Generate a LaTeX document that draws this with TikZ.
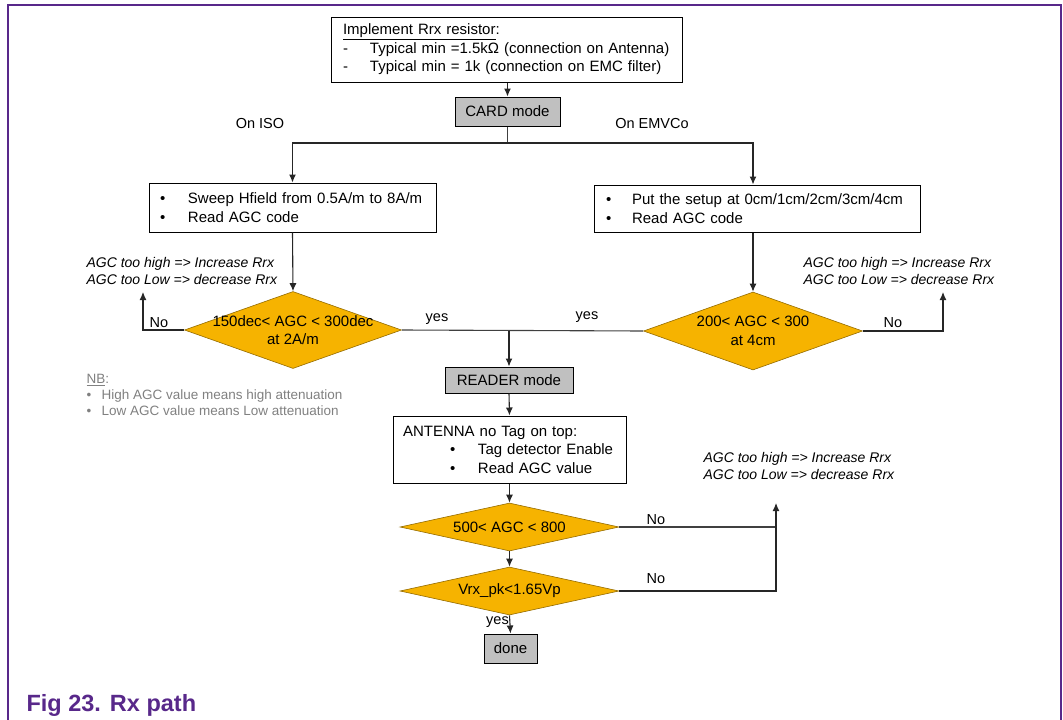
\documentclass[tikz,border=0pt]{standalone}
\usepackage{fontspec}
\setmainfont{Liberation Sans}
\usetikzlibrary{arrows.meta,shapes.geometric}
\definecolor{agcorange}{RGB}{246,179,0}
\definecolor{modegray}{RGB}{192,192,192}
\definecolor{nxppurple}{RGB}{88,40,138}
\definecolor{nbgray}{RGB}{128,128,128}
\tikzset{
  every node/.style={font=\fontsize{15}{18.5}\selectfont},
  procbox/.style={draw, line width=1pt, fill=white, align=left, inner xsep=12},
  modebox/.style={draw, line width=1pt, fill=modegray, minimum height=29, inner sep=0},
  decision/.style={diamond, draw=agcorange!60!black, line width=0.6pt, fill=agcorange, inner sep=0},
  flow/.style={line width=1.1pt, black!85, -{Latex[length=8,width=7]}},
  wire/.style={line width=1.1pt, black!75},
  hint/.style={font=\fontsize{14}{17}\itshape, align=left, anchor=west},
  tag/.style={font=\fontsize{14.5}{17}\selectfont},
}

\begin{document}
\begin{tikzpicture}[x=1pt,y=-1pt]
  \useasboundingbox (0,0) rectangle (1063,720);
  %%%%% frame and caption %%%%%
  \draw[nxppurple, line width=1.8pt] (8,720) |- (1061,5) -- (1061,720);
  \node[anchor=west, text=nxppurple, font=\fontsize{23.5}{27}\bfseries\selectfont] (caption) at (23,705) {Fig 23.\hspace{9pt}Rx path};

  %%%%% card mode part %%%%%
  \node[procbox, text width=327, minimum height=65] (rrx) at (506.5,49.5)
    {\underline{Implement Rrx resistor}:\\
     \makebox[27pt][l]{-}Typical min =1.5kΩ (connection on Antenna)\\
     \makebox[27pt][l]{-}Typical min = 1k (connection on EMC filter)};
  \node[modebox, minimum width=105] (card) at (507.5,111.5) {CARD mode};
  \draw[flow] (rrx.south -| card.north) -- (card.north);
  \coordinate (split) at (507.5,143);

  \node[tag] (oniso) at (260,124) {On ISO};
  \node[tag] (onemv) at (652,124) {On EMVCo};

  \node[procbox, inner xsep=11, text width=265, minimum height=49] (iso) at (292.5,207.5)
    {\makebox[28pt][l]{\textbullet}Sweep Hfield from 0.5A/m to 8A/m\\
     \makebox[28pt][l]{\textbullet}Read AGC code};
  \node[procbox, text width=302, minimum height=47] (emv) at (757,208.5)
    {\makebox[26pt][l]{\textbullet}Put the setup at 0cm/1cm/2cm/3cm/4cm\\
     \makebox[26pt][l]{\textbullet}Read AGC code};

  \draw[wire] (card.south) -- (split);
  \draw[flow] (split) -| (iso.north);
  \draw[flow] (split) -| (emv.north -| 753,0);

  \node[decision, minimum width=217, minimum height=77] (dec1) at (293,330) {};
  \node[align=center] (dec1txt) at (dec1) {150dec< AGC < 300dec\\at 2A/m};
  \node[decision, minimum width=219, minimum height=78] (dec2) at (753,331) {};
  \node[align=center] (dec2txt) at (dec2) {200< AGC < 300\\at 4cm};

  \draw[flow] (iso.south) -- (dec1.north);
  \draw[flow] (emv.south -| dec2.north) -- (dec2.north);

  % retry loops
  \coordinate (noL) at (143,292);
  \coordinate (noR) at (943,292);
  \draw[flow] (dec1.west) -| (noL);
  \draw[flow] (dec2.east) -| (noR);
  \node[tag] (noLtxt) at (159,323) {No};
  \node[tag] (noRtxt) at (893,323) {No};
  \node[hint] (hintL) at (83,270.5) {AGC too high => Increase Rrx\\AGC too Low => decrease Rrx};
  \node[hint] (hintR) at (800,270.5) {AGC too high => Increase Rrx\\AGC too Low => decrease Rrx};

  \node[anchor=north west, align=left, text=nbgray, font=\fontsize{13.5}{16}\selectfont] (nb) at (83,371)
    {\underline{NB}:\\
     \makebox[15pt][l]{\textbullet}High AGC value means high attenuation\\
     \makebox[15pt][l]{\textbullet}Low AGC value means Low attenuation};

  %%%%% reader mode part %%%%%
  \coordinate (join) at (509,330.5);
  \draw[wire] (dec1.east) -- (dec2.west);
  \node[tag] (yesL) at (437,319) {yes};
  \node[tag] (yesR) at (587,317) {yes};
  \node[modebox, minimum width=128, minimum height=26] (reader) at (509,380) {READER mode};
  \draw[flow] (join) -- (reader.north);

  \node[procbox, inner xsep=10, text width=213, minimum height=67] (ant) at (509.5,449.5)
    {ANTENNA no Tag on top:\\
     \hspace*{47pt}\makebox[28pt][l]{\textbullet}Tag detector Enable\\
     \hspace*{47pt}\makebox[28pt][l]{\textbullet}Read AGC value};
  \draw[flow] (reader.south) -- (ant.north);

  \node[decision, minimum width=219, minimum height=48] (dec3) at (509.5,527) {};
  \node (dec3txt) at (dec3) {500< AGC < 800};
  \node[decision, minimum width=219, minimum height=48] (dec4) at (509.5,591) {};
  \node (dec4txt) at (dec4) {Vrx\_pk<1.65Vp};
  \draw[flow] (ant.south) -- (dec3.north);
  \draw[flow] (dec3.south) -- (dec4.north);

  \coordinate (noB) at (776,503);
  \draw[wire] (dec3.east) -- (dec3.east -| noB);
  \draw[flow] (dec4.east) -| (noB);
  \node[tag] (noBtxt1) at (656,520) {No};
  \node[tag] (noBtxt2) at (656,579) {No};
  \node[hint] (hintB) at (700,465.5) {AGC too high => Increase Rrx\\AGC too Low => decrease Rrx};

  \node[modebox, minimum width=53] (done) at (510.5,648.5) {done};
  \draw[flow] (dec4.south) -- (done.north);
  \node[tag, anchor=east, inner sep=1pt] (yesB) at (510,622) {yes};
\end{tikzpicture}
\end{document}
